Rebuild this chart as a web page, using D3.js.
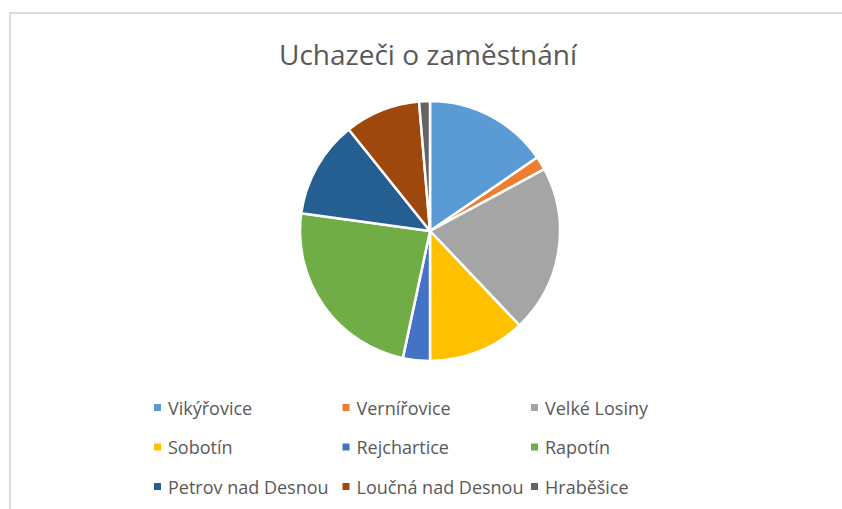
<!DOCTYPE html>
<html>
<head>
<meta charset="utf-8">
<script src="https://cdn.jsdelivr.net/npm/d3@7"></script>
<style>
  body { margin: 0; background: #fff; }
  svg { display: block; }
</style>
</head>
<body>
<svg id="chart"></svg>
<script>
// obce a počty uchazečů
const villages = ["Vikýřovice", "Vernířovice", "Velké Losiny", "Sobotín", "Rejchartice",
  "Rapotín", "Petrov nad Desnou", "Loučná nad Desnou", "Hraběšice"];
const applicants = [46, 5, 62, 36, 10, 71, 36, 28, 4];
const palette = ["#5b9bd5", "#ed7d31", "#a5a5a5", "#ffc000", "#4472c4",
  "#70ad47", "#255e91", "#9e480e", "#636363"];

const width = 842, height = 509;
const svg = d3.select("#chart").attr("width", width).attr("height", height);

// rámeček grafu
svg.append("path")
  .attr("d", `M10,${height} V13 H${width}`)
  .attr("fill", "none")
  .attr("stroke", "#d9d9d9")
  .attr("stroke-width", 2);

// title
svg.append("text")
  .attr("x", 428)
  .attr("y", 65)
  .attr("text-anchor", "middle")
  .style("font-family", "'Open Sans', sans-serif")
  .style("font-size", "28px")
  .style("fill", "#595959")
  .text("Uchazeči o zaměstnání");

const data = villages.map((name, i) => ({ name, value: applicants[i] }));
const color = d3.scaleOrdinal().domain(villages).range(palette);

const pie = d3.pie().value(d => d.value).sort(null);
const arc = d3.arc().innerRadius(0).outerRadius(130);

const g = svg.append("g").attr("transform", "translate(430,231)");
g.selectAll("path")
  .data(pie(data))
  .join("path")
  .attr("d", arc)
  .attr("fill", d => color(d.data.name))
  .attr("stroke", "#fff")
  .attr("stroke-width", 2.5)
  .attr("stroke-linejoin", "round");

// legenda 3x3
const colX = d3.scalePoint().domain([0, 1, 2]).range([154, 531]);
const rowY = d3.scalePoint().domain([0, 1, 2]).range([408, 487]);

const legend = svg.append("g").selectAll("g")
  .data(villages)
  .join("g")
  .attr("transform", (d, i) => `translate(${colX(i % 3)},${rowY(Math.floor(i / 3))})`);

legend.append("rect")
  .attr("x", 0).attr("y", -4)
  .attr("width", 7).attr("height", 7)
  .attr("fill", d => color(d));

legend.append("text")
  .attr("x", 14)
  .attr("y", 6.5)
  .style("font-family", "'Open Sans', sans-serif")
  .style("font-size", "18px")
  .style("fill", "#595959")
  .text(d => d);
</script>
</body>
</html>
